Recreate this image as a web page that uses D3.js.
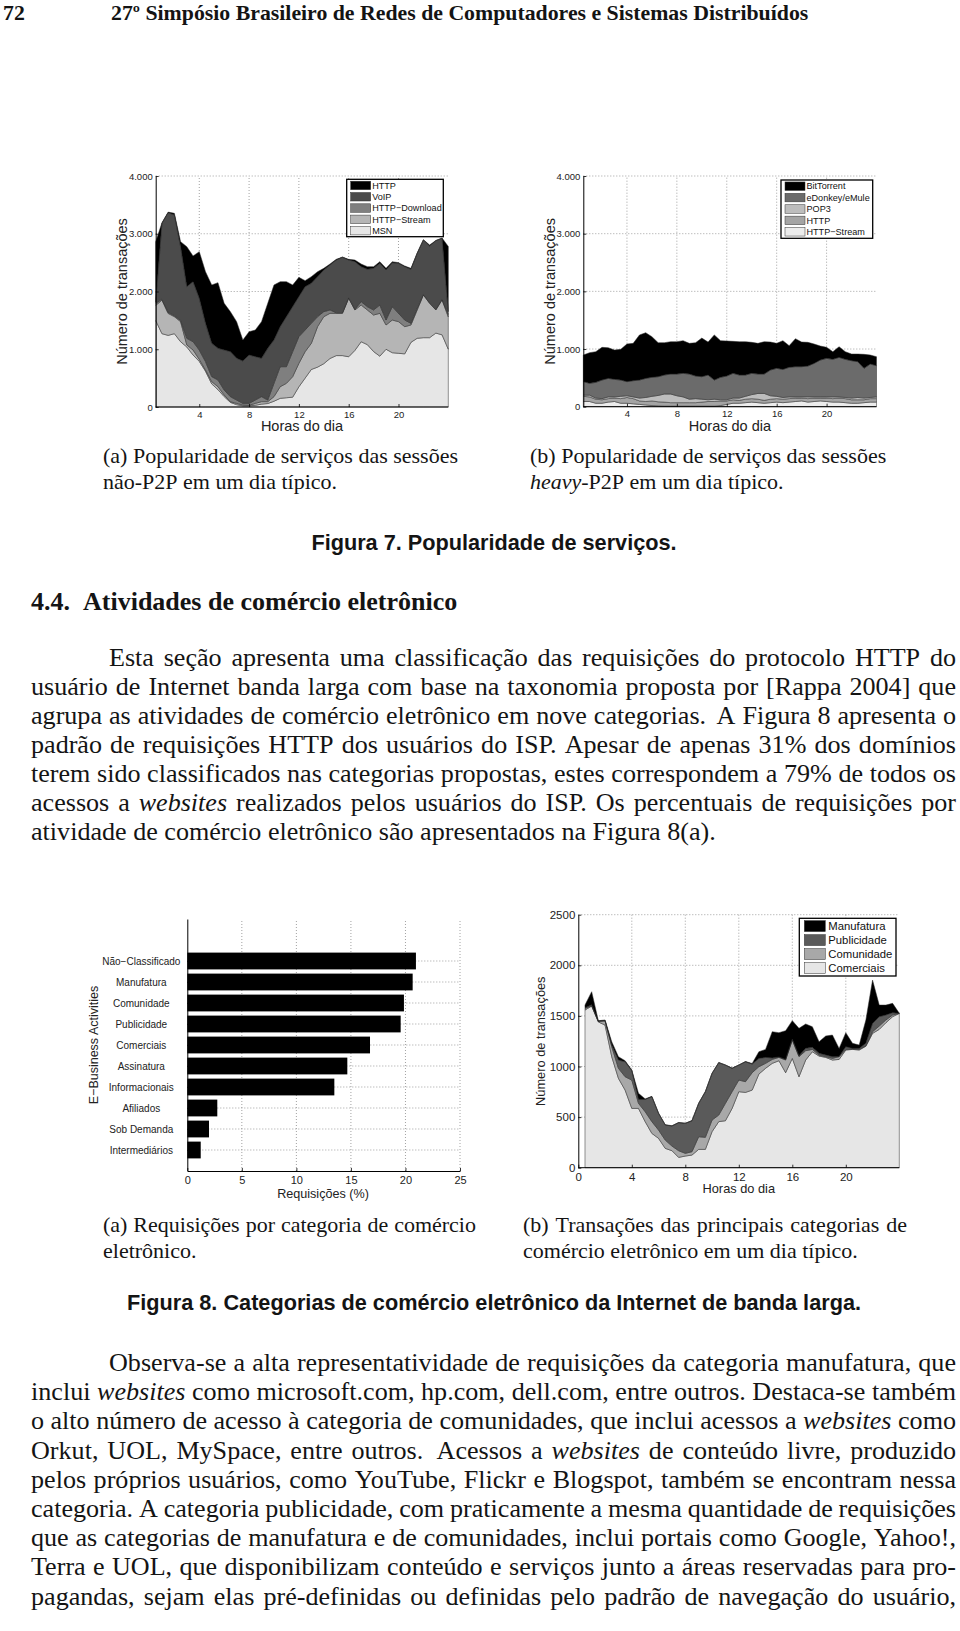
<!DOCTYPE html>
<html><head><meta charset="utf-8">
<script src="https://cdn.jsdelivr.net/npm/d3@7"></script>
<style>html,body{margin:0;padding:0;background:#fff}svg{display:block}</style>
</head><body>
<svg id="page" width="960" height="1631"></svg>
<script>
// ---------------- DATA ----------------
const hours = [0.5,1,1.5,2,2.5,3,3.5,4,4.5,5,5.5,6,6.5,7,7.5,8,8.5,9,9.5,10,10.5,11,11.5,12,12.5,13,13.5,14,14.5,15,15.5,16,16.5,17,17.5,18,18.5,19,19.5,20,20.5,21,21.5,22,22.5,23,23.5,24];
const hourTicks = [4,8,12,16,20];

// Figure 7(a) non-P2P sessions (bottom -> top)
const keysA = ["MSN","HTTP−Stream","HTTP−Download","VoIP","HTTP"];
const msnA = [1500,1270,1240,1270,1130,1040,900,790,620,400,300,180,80,40,20,20,30,50,60,100,150,160,170,350,500,650,690,750,840,890,890,870,980,1130,1080,960,880,1000,940,930,920,1120,1190,1200,1200,1280,1250,1000];
const streamA = [260,580,380,294,348,34,87,35,21,39,52,28,12,23,15,9,33,42,32,79,202,250,355,406,458,452,701,814,782,732,732,1012,700,636,600,633,742,420,566,548,471,300,490,739,595,400,603,560];
const downloadA = [30,20,20,16,22,115,144,162,144,86,116,86,87,58,28,34,58,87,29,231,346,288,433,462,375,347,173,87,58,10,10,10,10,58,57,87,144,86,231,144,115,29,28,10,10,10,10,40];
const voipA = [20,1310,1725,1745,1276,895,1039,895,664,577,548,693,779,722,734,837,751,664,895,750,693,866,779,693,751,692,693,721,779,913,960,653,827,606,647,721,722,866,762,866,924,935,953,943,983,1190,1058,50];
const httpA = [1050,10,10,29,87,692,445,808,894,1011,1137,808,693,635,363,404,461,635,779,953,779,606,376,334,104,116,86,29,17,12,5,12,28,46,46,29,29,29,18,11,12,17,5,5,17,5,5,1130];
const legendA = ["HTTP","VoIP","HTTP−Download","HTTP−Stream","MSN"];

// Figure 7(b) heavy-P2P sessions (bottom -> top)
const keysB = ["HTTP−Stream","HTTP","POP3","eDonkey/eMule","BitTorrent"];
const streamB = [90,90,60,60,80,90,60,60,50,40,30,20,15,10,10,10,10,10,10,10,10,10,20,40,60,60,70,80,70,60,70,80,70,80,90,100,80,90,100,90,80,80,70,60,60,70,80,80];
const httpB = [90,80,70,60,60,60,80,100,90,60,60,80,70,70,60,60,60,60,60,70,80,80,80,60,60,50,60,60,60,50,60,60,60,60,60,50,60,60,50,60,60,70,70,60,60,50,60,60];
const pop3B = [20,30,20,20,30,20,40,30,30,50,70,80,110,140,150,120,100,60,70,50,30,40,20,20,30,40,50,70,100,120,60,40,30,30,20,20,30,20,20,20,30,20,20,30,40,30,20,30];
const edonkeyB = [234,205,272,322,321,304,282,244,281,312,331,329,325,329,346,376,408,436,392,390,429,332,389,412,428,399,369,368,336,336,446,485,487,512,524,524,535,581,639,668,651,685,661,648,620,515,580,541];
const bittorrentB = [462,531,532,567,532,509,532,653,647,781,792,705,590,561,561,561,567,532,578,670,571,783,636,607,555,578,578,538,532,561,485,433,498,376,485,427,411,336,243,191,133,185,133,115,133,243,156,156];
const legendB = ["BitTorrent","eDonkey/eMule","POP3","HTTP","HTTP−Stream"];

const yTicks7 = [0,1000,2000,3000,4000];
const yLabels7 = ["0","1.000","2.000","3.000","4.000"];

// Figure 8(a) bar chart
const barCategories = ["Não−Classificado","Manufatura","Comunidade","Publicidade","Comerciais","Assinatura","Informacionais","Afiliados","Sob Demanda","Intermediários"];
const barValues = [20.96,20.66,19.86,19.56,16.75,14.67,13.48,2.75,1.99,1.23];
const barTicks = [0,5,10,15,20,25];

// Figure 8(b) e-commerce transactions (bottom -> top)
const keysC = ["Comerciais","Comunidade","Publicidade","Manufatura"];
const comerciaisC = [1558,1597,1440,1410,1097,883,767,586,586,455,339,290,191,168,102,115,125,181,181,356,455,464,586,751,744,767,925,982,1031,1057,939,1080,899,1064,1146,1103,1090,1064,1070,1163,1169,1163,1200,1327,1367,1433,1492,1525];
const comunidadeC = [16,3,5,40,99,99,132,280,50,98,116,82,82,46,66,27,33,125,119,115,65,172,165,115,106,172,73,49,39,33,125,181,198,92,23,10,7,16,27,7,3,6,5,17,33,27,17,0];
const publicidadeC = [6,10,3,5,16,82,148,94,39,122,247,165,149,198,277,296,306,330,451,461,518,378,231,148,197,85,82,59,15,5,6,9,8,24,20,17,16,17,3,26,7,10,24,82,92,49,23,0];
const manufaturaC = [27,129,4,5,33,33,10,5,60,5,3,3,3,3,2,2,2,2,2,2,2,2,2,2,2,6,66,79,259,239,284,183,272,240,204,115,188,214,79,138,50,33,230,428,115,98,92,0];
const legendC = ["Manufatura","Publicidade","Comunidade","Comerciais"];
const xTicksC = [0,4,8,12,16,20];
const yTicksC = [0,500,1000,1500,2000,2500];

// Text
const headerNum = "72";
const headerTitle = "27º Simpósio Brasileiro de Redes de Computadores e Sistemas Distribuídos";
const cap7a = ["(a) Popularidade de serviços das sessões","não-P2P em um dia típico."];
const cap7b = ["(b) Popularidade de serviços das sessões","_heavy_-P2P em um dia típico."];
const fig7Caption = "Figura 7. Popularidade de serviços.";
const sectionNum = "4.4.";
const sectionTitle = "Atividades de comércio eletrônico";
const para1 = [
 "Esta seção apresenta uma classificação das requisições do protocolo HTTP do",
 "usuário de Internet banda larga com base na taxonomia proposta por [Rappa 2004] que",
 "agrupa as atividades de comércio eletrônico em nove categorias.  A Figura 8 apresenta o",
 "padrão de requisições HTTP dos usuários do ISP. Apesar de apenas 31% dos domínios",
 "terem sido classificados nas categorias propostas, estes correspondem a 79% de todos os",
 "acessos a _websites_ realizados pelos usuários do ISP. Os percentuais de requisições por",
 "atividade de comércio eletrônico são apresentados na Figura 8(a)."
];
const cap8a = ["(a) Requisições por categoria de comércio","eletrônico."];
const cap8b = ["(b) Transações das principais categorias de","comércio eletrônico em um dia típico."];
const fig8Caption = "Figura 8. Categorias de comércio eletrônico da Internet de banda larga.";
const para2 = [
 "Observa-se a alta representatividade de requisições da categoria manufatura, que",
 "inclui _websites_ como microsoft.com, hp.com, dell.com, entre outros. Destaca-se também",
 "o alto número de acesso à categoria de comunidades, que inclui acessos a _websites_ como",
 "Orkut, UOL, MySpace, entre outros.  Acessos a _websites_ de conteúdo livre, produzido",
 "pelos próprios usuários, como YouTube, Flickr e Blogspot, também se encontram nessa",
 "categoria. A categoria publicidade, com praticamente a mesma quantidade de requisições",
 "que as categorias de manufatura e de comunidades, inclui portais como Google, Yahoo!,",
 "Terra e UOL, que disponibilizam conteúdo e serviços junto a áreas reservadas para pro-",
 "pagandas, sejam elas pré-definidas ou definidas pelo padrão de navegação do usuário,"
];

// ---------------- DRAWING ----------------
const SERIF = '"Liberation Serif","Times New Roman",Times,serif';
const SANS = '"Liberation Sans",Arial,Helvetica,sans-serif';
const INK = "#141414";
const svg = d3.select("#page");
svg.append("rect").attr("width",960).attr("height",1631).attr("fill","#fff");

// ---- text helpers ----
function makeWord(g, w, size, family, weight){
  const t = g.append("text").attr("font-family",family).attr("font-size",size)
    .attr("font-weight",weight).attr("fill",INK);
  w.split(/(_[^_]+_)/).filter(s=>s.length).forEach(s=>{
    const it = s.length>2 && s[0]==="_" && s[s.length-1]==="_";
    t.append("tspan").text(it ? s.slice(1,-1) : s).attr("font-style", it ? "italic" : null);
  });
  return t;
}
function textLine(g, line, x0, y, size, opt={}){
  const family = opt.family||SERIF, weight = opt.weight||"normal";
  const parts = line.split(/( +)/);
  const words=[], gaps=[];
  parts.forEach((p,i)=>{ if(i%2) gaps.push(p.length>1?1.5:1); else words.push(p); });
  const els = words.map(w=>makeWord(g,w,size,family,weight));
  const lens = els.map(e=>e.node().getComputedTextLength());
  let unit = size*0.25;
  if(opt.x1!=null && gaps.length) unit = (opt.x1 - x0 - d3.sum(lens))/d3.sum(gaps);
  let x = x0;
  els.forEach((e,i)=>{ e.attr("x",x).attr("y",y); x += lens[i] + (i<gaps.length ? gaps[i]*unit : 0); });
}
function paragraph(g, lines, x0, x1, indent, y0, step, size, endsHere){
  lines.forEach((ln,i)=>{
    const last = endsHere && i===lines.length-1;
    textLine(g, ln, x0 + (i===0?indent:0), y0+i*step, size, {x1: last?null:x1});
  });
}

const gText = svg.append("g");

// header
gText.append("text").attr("x",3).attr("y",20).attr("font-family",SERIF).attr("font-weight","bold")
  .attr("font-size",21.8).attr("fill",INK).text(headerNum);
gText.append("text").attr("x",111).attr("y",20).attr("font-family",SERIF).attr("font-weight","bold")
  .attr("font-size",21.8).attr("fill",INK).text(headerTitle);

// ---- generic axis styling ----
function styleAxis(sel, fs){
  sel.selectAll("path.domain").attr("stroke","#000").attr("stroke-width",1);
  sel.selectAll(".tick line").attr("stroke","#000").attr("stroke-width",0.8);
  sel.selectAll(".tick text").attr("font-family",SANS).attr("font-size",fs).attr("fill","#222");
}
function dotted(sel){ return sel.attr("stroke","#8a8a8a").attr("stroke-width",0.8).attr("stroke-dasharray","1,2").attr("fill","none"); }

// ---- stacked area chart ----
function stackedChart(o){
  const g = svg.append("g");
  const rows = hours.map((h,i)=>{ const r={h}; o.keys.forEach((k,j)=>r[k]=o.series[j][i]); return r; });
  const stacked = d3.stack().keys(o.keys)(rows);
  o.gridX.forEach(v=>dotted(g.append("line")).attr("x1",o.x(v)).attr("x2",o.x(v)).attr("y1",o.y.range()[0]).attr("y2",o.y.range()[1]));
  o.gridY.forEach(v=>dotted(g.append("line")).attr("x1",o.gx0).attr("x2",o.gx1).attr("y1",o.y(v)).attr("y2",o.y(v)));
  const area = d3.area().x(d=>o.x(d.data.h)).y0(d=>o.y(d[0])).y1(d=>o.y(d[1]));
  g.selectAll("path.layer").data(stacked).join("path").attr("class","layer")
    .attr("d",area).attr("fill",d=>o.colors[d.key]).attr("stroke","#2a2a2a").attr("stroke-width",0.5);
  const ax = g.append("g").attr("transform",`translate(0,${o.y(0)})`)
    .call(d3.axisBottom(o.x).tickValues(o.xTicks).tickSizeInner(-3).tickSizeOuter(0).tickPadding(o.xPad).tickFormat(d3.format("d")));
  ax.select("path.domain").attr("d",`M${o.gx0},0H${o.gx1}`);
  styleAxis(ax, o.tickFs);
  const ay = g.append("g").attr("transform",`translate(${o.gx0},0)`)
    .call(d3.axisLeft(o.y).tickValues(o.yTicks).tickSizeInner(-3).tickSizeOuter(0).tickPadding(o.yPad).tickFormat((d,i)=>o.yLabels[i]));
  styleAxis(ay, o.tickFs);
  g.append("text").attr("x",(o.gx0+o.gx1)/2).attr("y",o.xTitleY).attr("text-anchor","middle")
    .attr("font-family",SANS).attr("font-size",o.titleFs).attr("fill","#222").text("Horas do dia");
  g.append("text").attr("transform",`translate(${o.yTitleX},${(o.y.range()[0]+o.y.range()[1])/2}) rotate(-90)`)
    .attr("text-anchor","middle").attr("font-family",SANS).attr("font-size",o.titleFs).attr("fill","#222").text("Número de transações");
  const L = o.legend;
  const lg = g.append("g");
  lg.append("rect").attr("x",L.x).attr("y",L.y).attr("width",L.w).attr("height",L.h)
    .attr("fill","#fff").attr("stroke","#000").attr("stroke-width",1.3);
  L.items.forEach((name,i)=>{
    const cy = L.y + L.pad + (i+0.5)*L.row;
    lg.append("rect").attr("x",L.x+L.sx).attr("y",cy-L.sh/2).attr("width",L.sw).attr("height",L.sh)
      .attr("fill",o.colors[name]).attr("stroke","#333").attr("stroke-width",0.5);
    lg.append("text").attr("x",L.x+L.tx).attr("y",cy).attr("dy","0.35em").attr("font-family",SANS)
      .attr("font-size",L.fs).attr("fill","#111").text(name);
  });
}

// Figure 7(a)
const xA = d3.scaleLinear().domain([0.5,24]).range([155.7,448.3]);
const yA = d3.scaleLinear().domain([0,4000]).range([407,176]);
stackedChart({keys:keysA, series:[msnA,streamA,downloadA,voipA,httpA], x:xA, y:yA, gx0:155.7, gx1:448.3,
  colors:{"HTTP":"#000000","VoIP":"#4b4b4b","HTTP−Download":"#7f7f7f","HTTP−Stream":"#b5b5b5","MSN":"#e6e6e6"},
  gridX:hourTicks, gridY:[1000,2000,3000,4000], xTicks:hourTicks, yTicks:yTicks7, yLabels:yLabels7,
  xPad:4, yPad:3, tickFs:9.5, titleFs:14.5, xTitleY:431, yTitleX:127,
  legend:{x:346.7,y:179.3,w:96.6,h:57.4,pad:0.5,row:11.3,sx:4,sw:20,sh:8.5,tx:25.5,fs:9.1,items:legendA}});

// Figure 7(b)
const xB = d3.scaleLinear().domain([0.5,24]).range([583.3,876.5]);
const yB = d3.scaleLinear().domain([0,4000]).range([406.7,176]);
stackedChart({keys:keysB, series:[streamB,httpB,pop3B,edonkeyB,bittorrentB], x:xB, y:yB, gx0:583.3, gx1:876.5,
  colors:{"BitTorrent":"#000000","eDonkey/eMule":"#6b6b6b","POP3":"#bdbdbd","HTTP":"#a4a4a4","HTTP−Stream":"#ececec"},
  gridX:hourTicks, gridY:[1000,2000,3000,4000], xTicks:hourTicks, yTicks:yTicks7, yLabels:yLabels7,
  xPad:4, yPad:3, tickFs:9.5, titleFs:14.5, xTitleY:431, yTitleX:555,
  legend:{x:781,y:180,w:91.7,h:58.3,pad:0.5,row:11.4,sx:4,sw:20,sh:8.5,tx:25.5,fs:9.1,items:legendB}});

// Figure 8(b)
const xC = d3.scaleLinear().domain([0,24]).range([578.3,899.3]);
const yC = d3.scaleLinear().domain([0,2500]).range([1167.7,914.7]);
stackedChart({keys:keysC, series:[comerciaisC,comunidadeC,publicidadeC,manufaturaC], x:xC, y:yC, gx0:578.3, gx1:899.3,
  colors:{"Manufatura":"#000000","Publicidade":"#5a5a5a","Comunidade":"#a8a8a8","Comerciais":"#e6e6e6"},
  gridX:[4,8,12,16,20], gridY:[500,1000,1500,2000,2500], xTicks:xTicksC, yTicks:yTicksC, yLabels:yTicksC.map(String),
  xPad:5, yPad:3, tickFs:11.5, titleFs:12.8, xTitleY:1193, yTitleX:545,
  legend:{x:799.3,y:918.3,w:96.7,h:57.7,pad:0.8,row:14,sx:5,sw:21,sh:11,tx:29,fs:11.3,items:legendC}});

// Figure 8(a) bar chart
(function(){
  const g = svg.append("g");
  const x = d3.scaleLinear().domain([0,25]).range([187.3,460]);
  const y = d3.scaleLinear().domain([0,12]).range([1171,919]);
  const pos = barCategories.map((c,i)=>barCategories.length - i);
  barTicks.slice(1).forEach(v=>dotted(g.append("line")).attr("x1",x(v)).attr("x2",x(v)).attr("y1",y(0)).attr("y2",y(12)));
  pos.forEach(p=>dotted(g.append("line")).attr("x1",x(0)).attr("x2",x(25)).attr("y1",y(p)).attr("y2",y(p)));
  g.selectAll("rect.bar").data(barValues).join("rect").attr("class","bar")
    .attr("x",x(0)).attr("y",(d,i)=>y(pos[i]+0.4)).attr("width",d=>x(d)-x(0))
    .attr("height",(d,i)=>y(pos[i]-0.4)-y(pos[i]+0.4)).attr("fill","#000");
  const ax = g.append("g").attr("transform",`translate(0,${y(0)})`)
    .call(d3.axisBottom(x).tickValues(barTicks).tickSizeInner(-3).tickSizeOuter(0).tickPadding(5).tickFormat(d3.format("d")));
  styleAxis(ax, 11);
  const ay = g.append("g").attr("transform",`translate(${x(0)},0)`)
    .call(d3.axisLeft(y).tickValues(pos).tickSizeInner(-3).tickSizeOuter(0).tickFormat((d,i)=>barCategories[i]));
  styleAxis(ay, 10);
  ay.selectAll(".tick text").attr("x",-46).attr("text-anchor","middle");
  g.append("text").attr("x",323).attr("y",1198).attr("text-anchor","middle").attr("font-family",SANS)
    .attr("font-size",12.6).attr("fill","#222").text("Requisições (%)");
  g.append("text").attr("transform",`translate(98,${(y(0)+y(12))/2}) rotate(-90)`).attr("text-anchor","middle")
    .attr("font-family",SANS).attr("font-size",12.5).attr("fill","#222").text("E−Business Activities");
})();

// ---- captions and body text ----
const L0 = 31, R0 = 956, FIGMID = 494, BODY = 26.1;
textLine(gText, cap7a[0], 103, 463, 22);
textLine(gText, cap7a[1], 103, 489, 22);
textLine(gText, cap7b[0], 530, 463, 22);
textLine(gText, cap7b[1], 530, 489, 22);
gText.append("text").attr("x",FIGMID).attr("y",550).attr("text-anchor","middle").attr("font-family",SANS)
  .attr("font-weight","bold").attr("font-size",21.7).attr("fill",INK).text(fig7Caption);

gText.append("text").attr("x",L0).attr("y",610).attr("font-family",SERIF).attr("font-weight","bold")
  .attr("font-size",26).attr("fill",INK).text(sectionNum);
gText.append("text").attr("x",83).attr("y",610).attr("font-family",SERIF).attr("font-weight","bold")
  .attr("font-size",26).attr("fill",INK).text(sectionTitle);

paragraph(gText, para1, L0, R0, 78, 666, 29, BODY, true);

textLine(gText, cap8a[0], 103, 1232, 22, {x1:476});
textLine(gText, cap8a[1], 103, 1258, 22);
textLine(gText, cap8b[0], 523, 1232, 22, {x1:907});
textLine(gText, cap8b[1], 523, 1258, 22);
gText.append("text").attr("x",FIGMID).attr("y",1310).attr("text-anchor","middle").attr("font-family",SANS)
  .attr("font-weight","bold").attr("font-size",21.7).attr("fill",INK).text(fig8Caption);

paragraph(gText, para2, L0, R0, 78, 1371, 29.2, BODY, false);
</script>
</body></html>
